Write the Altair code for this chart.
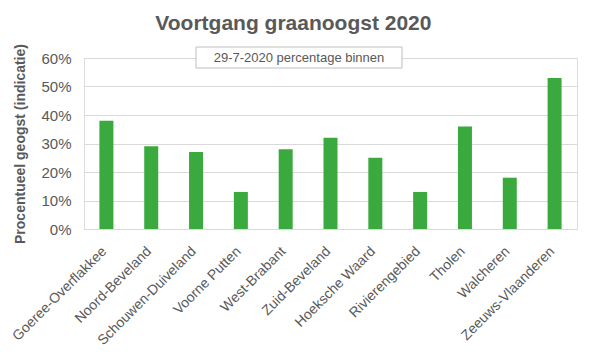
import altair as alt
import pandas as pd

categories = ["Goeree-Overflakkee", "Noord-Beveland", "Schouwen-Duiveland", "Voorne Putten",
              "West-Brabant", "Zuid-Beveland", "Hoeksche Waard", "Rivierengebied",
              "Tholen", "Walcheren", "Zeeuws-Vlaanderen"]
values = [0.38, 0.29, 0.27, 0.13, 0.28, 0.32, 0.25, 0.13, 0.36, 0.18, 0.53]
y_ticks = [0, 0.1, 0.2, 0.3, 0.4, 0.5, 0.6]
note = "29-7-2020 percentage binnen"

df = pd.DataFrame({"regio": categories, "pct": values})
FONT = "Liberation Sans"
GREY = "#595959"

bars = alt.Chart(df).mark_bar(color="#3AAA3F", size=14).encode(
    x=alt.X("regio:N", sort=categories, title=None,
            axis=alt.Axis(labelAngle=-45, labelFontSize=14, labelColor=GREY, labelFont=FONT,
                          ticks=False, domainColor="#d9d9d9", labelPadding=15, labelOffset=-7,
                          labelLimit=200)),
    y=alt.Y("pct:Q", title="Procentueel geogst (indicatie)",
            scale=alt.Scale(domain=[0, 0.6], nice=False),
            axis=alt.Axis(values=y_ticks, format=".0%", labelFontSize=15, labelColor=GREY,
                          labelFont=FONT, ticks=False, domain=False, gridColor="#d9d9d9",
                          titleFontSize=14, titleFont=FONT, titleColor=GREY, titleFontWeight="bold",
                          labelPadding=13, titlePadding=13)),
)

box = alt.Chart(df.head(1)).mark_rect(fill="white", stroke="#bfbfbf", strokeWidth=1).encode(
    x=alt.value(112), x2=alt.value(318), y=alt.value(-11), y2=alt.value(10))
txt = alt.Chart(df.head(1)).mark_text(font=FONT, fontSize=13, color=GREY).encode(
    x=alt.value(215), y=alt.value(0), text=alt.value(note))

chart = alt.layer(bars, box, txt).properties(
    width=493, height=171,
    title=alt.TitleParams("Voortgang graanoogst 2020", font=FONT, fontSize=21, fontWeight="bold",
                          color=GREY, anchor="middle", frame="bounds", offset=10),
    padding={"left": 1, "top": 4, "right": 5, "bottom": 5},
).configure_view(stroke=None).configure(background="white")

chart.save("out.html", embed_options={"renderer": "svg", "actions": False})
